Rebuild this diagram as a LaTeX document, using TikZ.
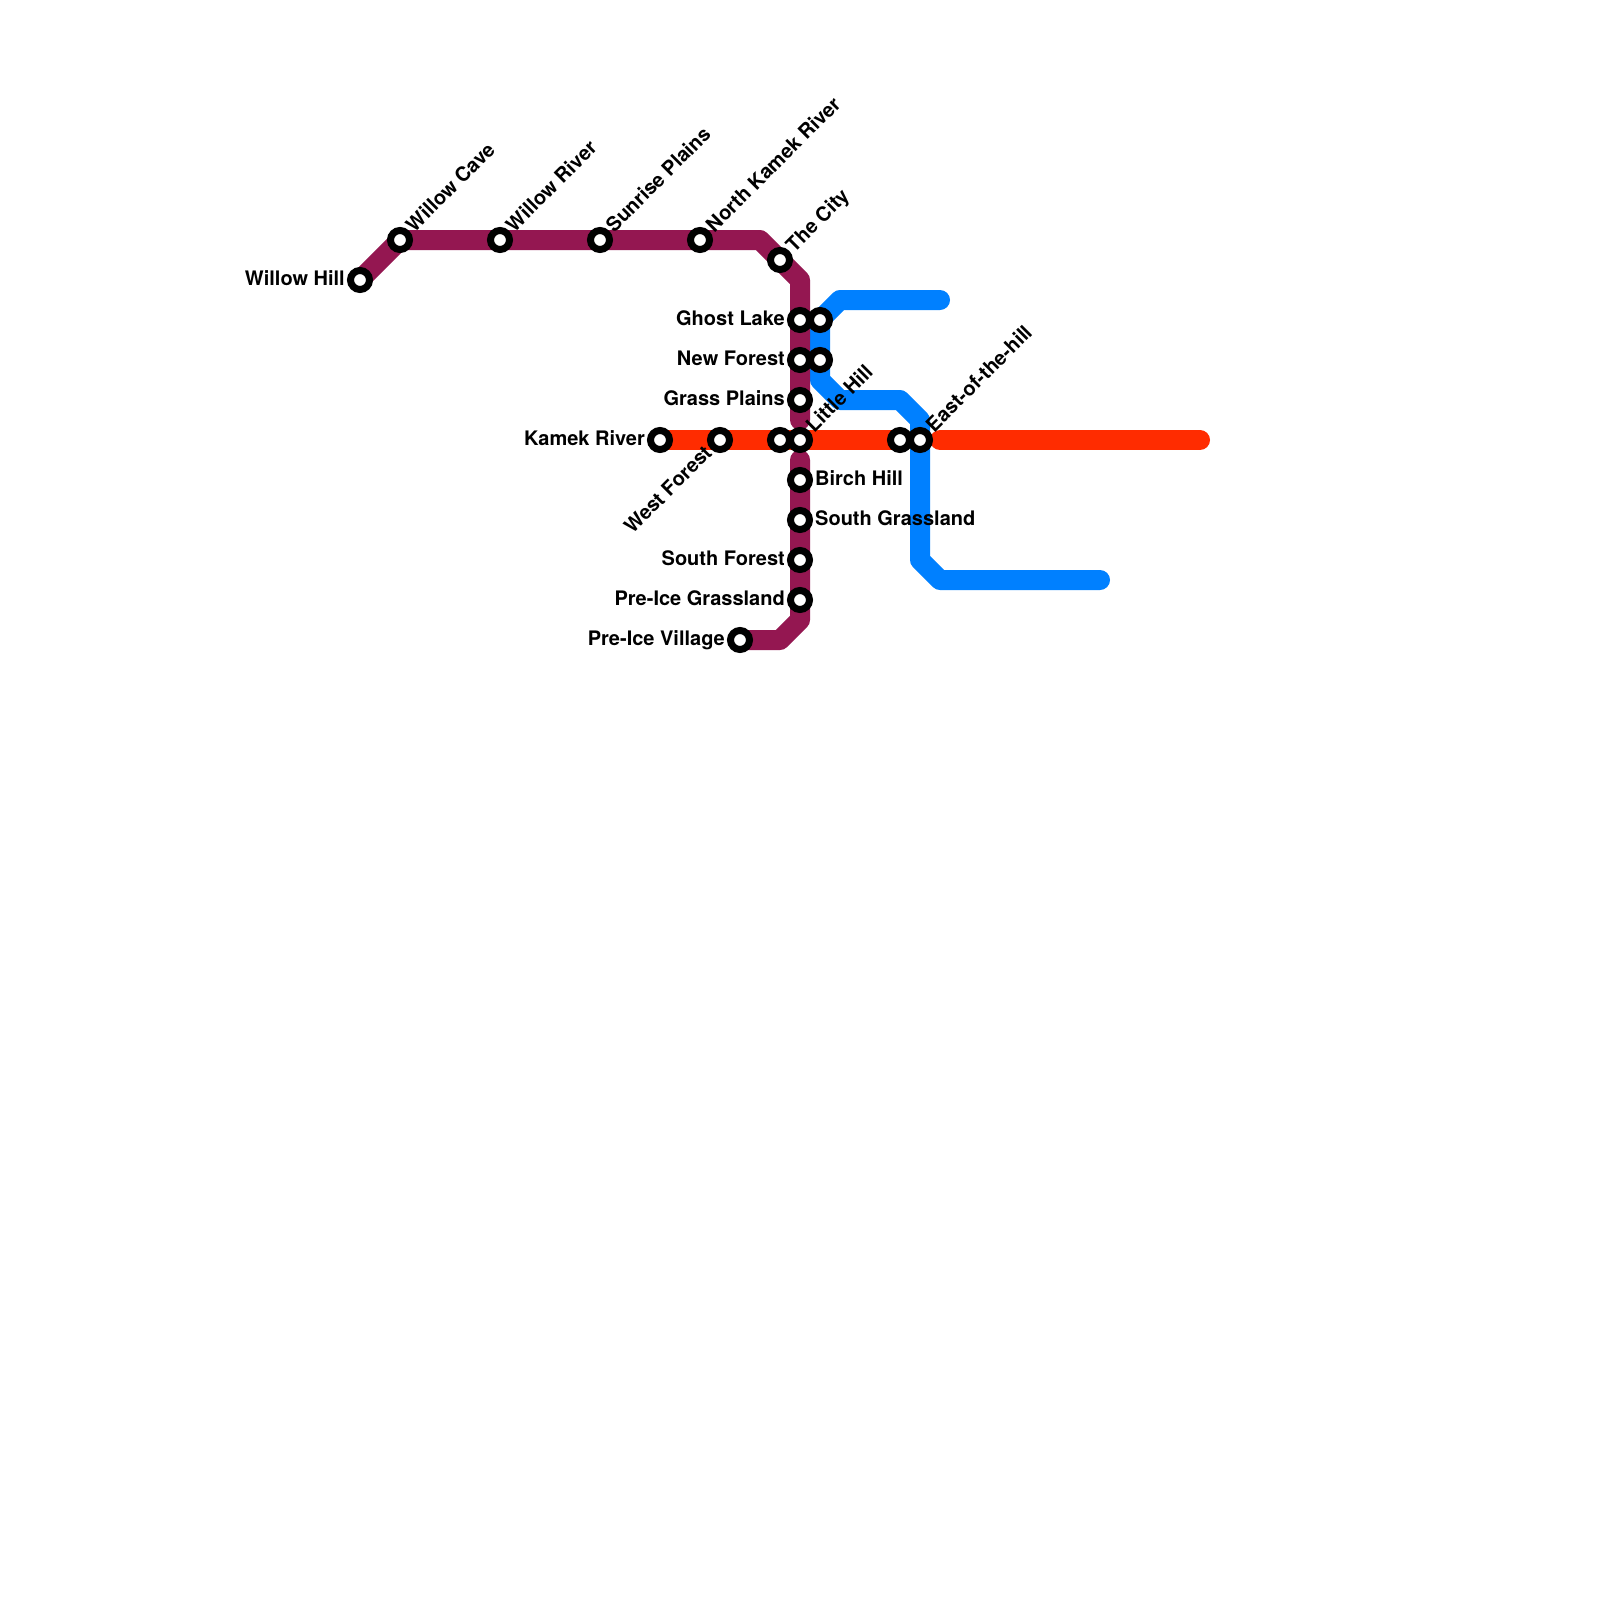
\documentclass[tikz,border=0pt]{standalone}
\usepackage{fontspec}
\setmainfont{TeX Gyre Heros}
\definecolor{plum}{HTML}{941751}
\definecolor{sky}{HTML}{0080FF}
\definecolor{fire}{HTML}{FF2C00}
\tikzset{
  x=1pt,y=-1pt,
  line/.style={line width=20pt,line cap=round,line join=round},
  stn/.style={circle,draw=black,fill=white,line width=7pt,minimum size=19pt,inner sep=0pt,outer sep=0pt},
  lab/.style={font=\fontsize{20pt}{22pt}\selectfont\bfseries,inner sep=0pt,text=black,text depth=0pt},
  labl/.style={lab,anchor=east},
  labr/.style={lab,anchor=west},
  labu/.style={lab,anchor=west,rotate=45},
  labd/.style={lab,anchor=east,rotate=45}
}
\begin{document}
\begin{tikzpicture}
\useasboundingbox (0,0) rectangle (1600,1600);
\fill[white] (0,0) rectangle (1600,1600);
% waypoints
\coordinate (p1) at (760,240); \coordinate (p2) at (800,280); \coordinate (p3) at (800,420);
\coordinate (p4) at (800,460); \coordinate (p5) at (800,620); \coordinate (p6) at (780,640);
\coordinate (b1) at (940,300); \coordinate (b2) at (840,300); \coordinate (b3) at (820,320);
\coordinate (b4) at (820,380); \coordinate (b5) at (840,400); \coordinate (b6) at (900,400);
\coordinate (b7) at (920,420); \coordinate (b8) at (920,560); \coordinate (b9) at (940,580);
\coordinate (b10) at (1100,580);
\coordinate (r1) at (940,440); \coordinate (r2) at (1200,440);
\coordinate (WH) at (360,280); \coordinate (WC) at (400,240); \coordinate (PV) at (740,640);
\coordinate (KR) at (660,440); \coordinate (UR) at (900,440);
% lines
\draw[line,fire] (KR) -- (UR);
\draw[line,fire] (r1) -- (r2);
\draw[line,sky] (b1) -- (b2) -- (b3) -- (b4) -- (b5) -- (b6) -- (b7) -- (b8) -- (b9) -- (b10);
\draw[line,plum] (WH) -- (WC) -- (p1) -- (p2) -- (p3);
\draw[line,plum] (p4) -- (p5) -- (p6) -- (PV);
% stations
\node[stn] (sWH) at (WH) {};
\node[stn] (sWC) at (WC) {};
\node[stn] (sWR) at (500,240) {};
\node[stn] (sSP) at (600,240) {};
\node[stn] (sNK) at (700,240) {};
\node[stn] (sTC) at (780,260) {};
\node[stn] (sGL) at (800,320) {};
\node[stn] (sNF) at (800,360) {};
\node[stn] (sGP) at (800,400) {};
\node[stn] (sU1) at (820,320) {};
\node[stn] (sU2) at (820,360) {};
\node[stn] (sKR) at (KR) {};
\node[stn] (sWF) at (720,440) {};
\node[stn] (sU3) at (780,440) {};
\node[stn] (sLH) at (800,440) {};
\node[stn] (sU4) at (UR) {};
\node[stn] (sEH) at (920,440) {};
\node[stn] (sBH) at (800,480) {};
\node[stn] (sSG) at (800,520) {};
\node[stn] (sSF) at (800,560) {};
\node[stn] (sPG) at (800,600) {};
\node[stn] (sPV) at (PV) {};
% labels
\node[labl] (tWH) at (345,278) {Willow Hill};
\node[labu] (tWC) at (409,228) {Willow Cave};
\node[labu] (tWR) at (509,228) {Willow River};
\node[labu] (tSP) at (609,228) {Sunrise Plains};
\node[labu] (tNK) at (709,228) {North Kamek River};
\node[labu] (tTC) at (789,248) {The City};
\node[labl] (tGL) at (785,318) {Ghost Lake};
\node[labl] (tNF) at (785,358) {New Forest};
\node[labl] (tGP) at (785,398) {Grass Plains};
\node[labu] (tLH) at (809,428) {Little Hill};
\node[labl] (tKR) at (645,438) {Kamek River};
\node[labd] (tWF) at (708,449) {West Forest};
\node[labu] (tEH) at (929,428) {East-of-the-hill};
\node[labr] (tBH) at (815,478) {Birch Hill};
\node[labr] (tSG) at (815,518) {South Grassland};
\node[labl] (tSF) at (785,558) {South Forest};
\node[labl] (tPG) at (785,598) {Pre-Ice Grassland};
\node[labl] (tPV) at (725,638) {Pre-Ice Village};
\end{tikzpicture}
\end{document}
